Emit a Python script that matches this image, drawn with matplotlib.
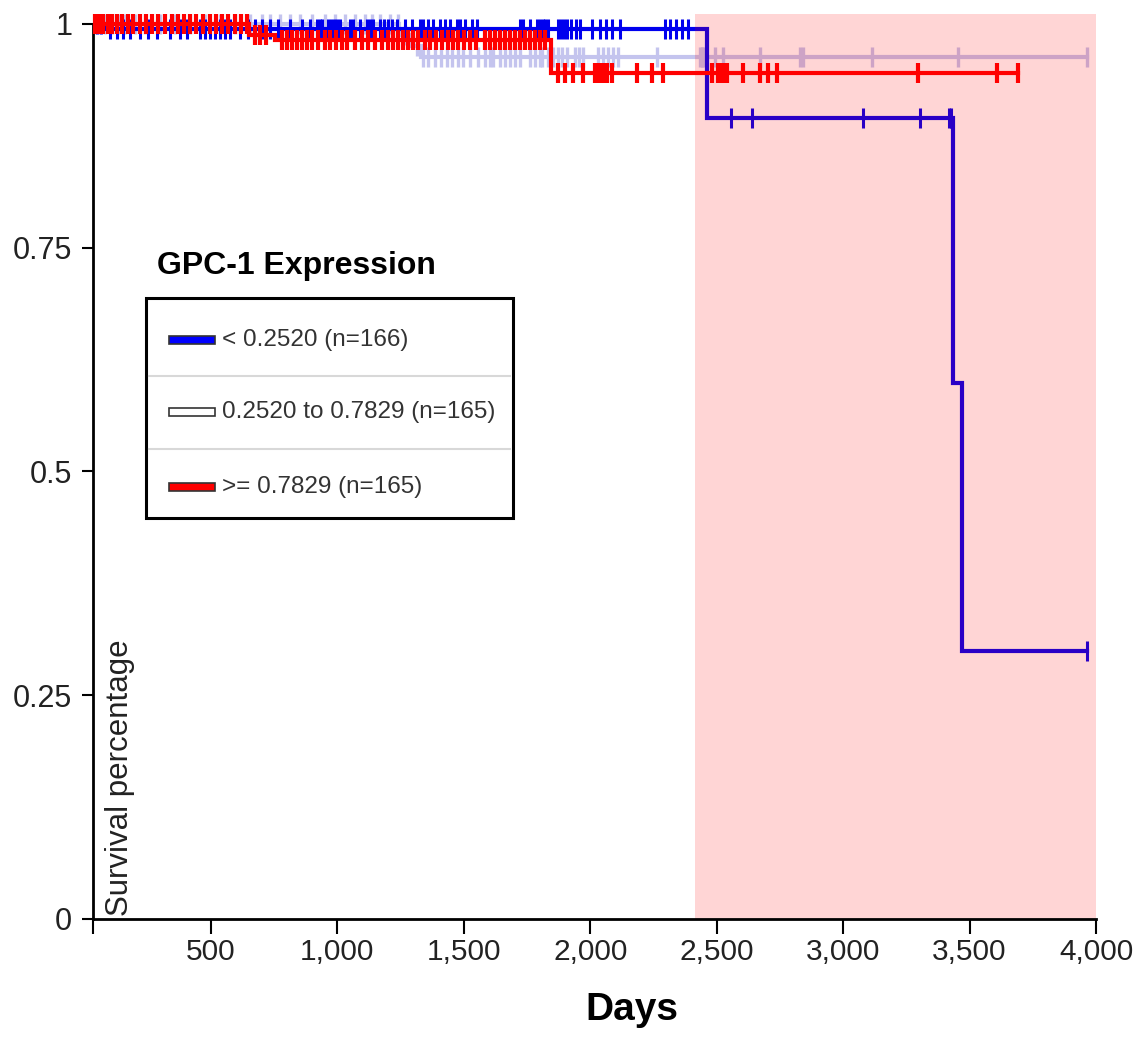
import numpy as np
import matplotlib
matplotlib.use("Agg")
import matplotlib.pyplot as plt
from matplotlib.patches import Rectangle
from matplotlib.lines import Line2D

plt.rcParams['font.family'] = ['Liberation Sans', 'DejaVu Sans']

# groups
labels = ['< 0.2520 (n=166)', '0.2520 to 0.7829 (n=165)', '>= 0.7829 (n=165)']
line_colors = ['#0000ee', '#c4c4ee', '#ff0000']
swatch_colors = ['#0000ff', '#ffffff', '#ff0000']

# step changes (days) and survival after each step
blue_events = [90, 2460, 3433, 3472]
blue_surv = [0.994, 0.895, 0.599, 0.299]
gray_events = [1245, 1290, 1330]
gray_surv = [0.988, 0.975, 0.963]
red_events = [650, 755, 1845]
red_surv = [0.988, 0.982, 0.945]

# censored times (days)
blue_cens = [49, 65, 101, 128, 152, 180, 219, 251, 287, 338, 377, 405, 456, 476,
             496, 516, 536, 555, 575, 615, 646, 674, 702, 733, 765, 812, 860, 891,
             919, 931, 939, 962, 974, 986, 998, 1010, 1049, 1061, 1089, 1117, 1128,
             1140, 1168, 1184, 1200, 1215, 1235, 1267, 1295, 1326, 1338, 1358, 1377,
             1405, 1425, 1445, 1472, 1484, 1504, 1532, 1551, 1721, 1733, 1761, 1789,
             1800, 1812, 1820, 1832, 1872, 1883, 1895, 1907, 1923, 1943, 1958, 2006,
             2037, 2061, 2085, 2117, 2295, 2314, 2338, 2362, 2385, 2555, 2638, 3077,
             3306, 3417, 3425, 3966]
gray_cens = [41, 61, 81, 109, 132, 160, 200, 239, 298, 358, 417, 476, 536, 595, 654,
             702, 733, 773, 812, 852, 899, 951, 990, 1030, 1069, 1109, 1136, 1168,
             1208, 1239, 1267, 1314, 1338, 1358, 1385, 1409, 1433, 1453, 1476, 1496,
             1524, 1555, 1583, 1603, 1615, 1642, 1662, 1682, 1701, 1721, 1761, 1781,
             1800, 1808, 1832, 1852, 1872, 1888, 1907, 1939, 1954, 1970, 2030, 2050,
             2069, 2089, 2109, 2263, 2433, 2441, 2445, 2493, 2524, 2670, 2828, 2840,
             3113, 3453, 3966]
red_cens = [41, 57, 73, 93, 109, 128, 148, 172, 192, 219, 243, 267, 291, 318, 346,
            370, 393, 417, 441, 468, 496, 520, 543, 567, 595, 619, 642, 674, 694, 717,
            781, 801, 821, 840, 860, 880, 899, 923, 951, 970, 994, 1018, 1038, 1069,
            1097, 1121, 1148, 1176, 1200, 1219, 1239, 1259, 1279, 1299, 1318, 1346,
            1366, 1389, 1413, 1437, 1456, 1476, 1500, 1524, 1547, 1583, 1603, 1622,
            1642, 1662, 1682, 1701, 1721, 1741, 1761, 1781, 1800, 1820, 1872, 1899,
            1931, 1971, 2018, 2034, 2050, 2066, 2085, 2184, 2243, 2287, 2481, 2504,
            2516, 2528, 2540, 2603, 2670, 2702, 2737, 3295, 3607, 3690]

x_start = 34
x_end = 4000
shade_start = 2413
x_ticks = [500, 1000, 1500, 2000, 2500, 3000, 3500, 4000]
y_ticks = [0, 0.25, 0.5, 0.75, 1]
y_ticklabels = ['0', '0.25', '0.5', '0.75', '1']

W, H = 1144, 1037
fig = plt.figure(figsize=(W / 100, H / 100), dpi=100)
ax = fig.add_axes([93 / W, 1 - 919 / H, (1096 - 93) / W, (919 - 14) / H])


def surv_at(t, events, surv):
    idx = np.searchsorted(events, t, side='right')
    return np.r_[1.0, surv][idx]


groups = [
    (blue_events, blue_surv, blue_cens, 2, 2.2),
    (gray_events, gray_surv, gray_cens, 1, 2.4),
    (red_events, red_surv, red_cens, 3, 3.0),
]
for (ev, sv, cens, z, mw), col in zip(groups, line_colors):
    end = max(cens)
    t = np.r_[x_start, ev, end]
    s = np.r_[1.0, sv, sv[-1]]
    ax.step(t, s, where='post', color=col, lw=3.0, zorder=z, solid_joinstyle='miter')
    ax.plot(cens, surv_at(np.array(cens), ev, sv), ls='none', marker='|',
            ms=14.5, mew=mw, color=col, zorder=z, clip_on=False)

ax.axvspan(shade_start, x_end, color='#ff0000', alpha=0.165, lw=0, zorder=5)

ax.set_xlim(x_start, x_end)
ax.set_ylim(0, 1.011)
for side in ['top', 'right']:
    ax.spines[side].set_visible(False)
ax.spines['left'].set_bounds(0, 1)
ax.spines['left'].set_linewidth(2)
ax.spines['bottom'].set_linewidth(2)
ax.spines['bottom'].set_zorder(6)

ax.set_xticks(x_ticks)
ax.set_xticklabels([f'{v:,}' for v in x_ticks])
ax.set_xticks([x_start], minor=True)
ax.set_yticks(y_ticks)
ax.set_yticklabels(y_ticklabels)
ax.tick_params(axis='x', which='both', length=11, width=1.5, pad=3,
               labelsize=21.5, labelcolor='#222222')
ax.tick_params(axis='y', length=8, width=1.5, pad=7,
               labelsize=22, labelcolor='#222222')

ax.text(0.027, 0.003, 'Survival percentage', transform=ax.transAxes, rotation=90,
        ha='center', va='bottom', fontsize=22.5, color='#222222')
fig.text(632 / W, 1 - 1010 / H, 'Days', ha='center', va='center',
         fontsize=28, fontweight='bold')

# legend block
def fx(x):
    return x / W


def fy(y):
    return 1 - y / H


fig.text(fx(157), fy(266), 'GPC-1 Expression', ha='left', va='center',
         fontsize=23, fontweight='bold')
fig.add_artist(Rectangle((fx(146), fy(518)), fx(513) - fx(146), fy(298) - fy(518),
                         transform=fig.transFigure, facecolor='white',
                         edgecolor='black', lw=2.2, zorder=7))
for ysep in [376, 449]:
    fig.add_artist(Line2D([fx(149), fx(510)], [fy(ysep), fy(ysep)],
                          transform=fig.transFigure, color='#d8d8d8', lw=1.5, zorder=8))
for yc, lab, sc in zip([340, 412, 487], labels, swatch_colors):
    fig.add_artist(Rectangle((fx(169), fy(yc + 4)), fx(215) - fx(169), fy(yc - 4) - fy(yc + 4),
                             transform=fig.transFigure, facecolor=sc,
                             edgecolor='#333333', lw=1.2, zorder=8))
    fig.text(fx(222), fy(yc), lab, ha='left', va='center', fontsize=17.5,
             color='#333333', zorder=9)

fig.savefig('out.png', dpi=100)
